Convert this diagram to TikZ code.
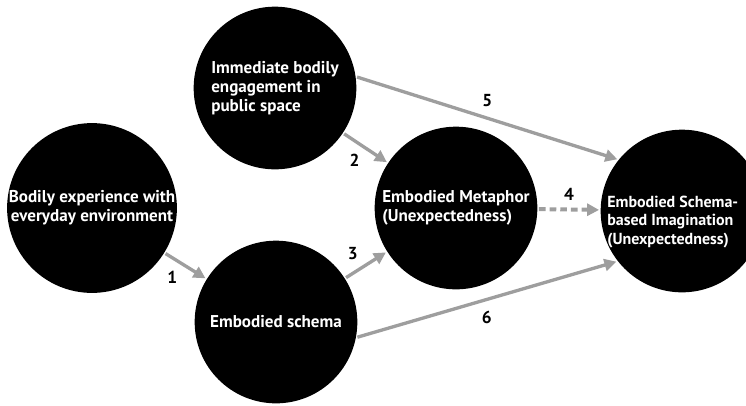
\documentclass[tikz,border=0pt]{standalone}
\usepackage{fontspec}
\setmainfont{PT Sans}
\usetikzlibrary{arrows.meta, calc}
\definecolor{linkgray}{RGB}{158,158,158}

\begin{document}
\begin{tikzpicture}[
    x=0.75pt, y=-0.75pt,
    stagefont/.style={font=\bfseries\fontsize{12.8}{14}\selectfont},
    stage/.style={circle, fill=black, text=white, minimum size=122pt, inner sep=0pt, stagefont},
    link/.style={-{Triangle[length=9pt, width=9pt]}, line width=2.5pt, linkgray,
        shorten <=1pt, shorten >=1pt},
    num/.style={font=\bfseries\fontsize{13}{14}\selectfont, text=black}
]
\useasboundingbox (0,0) rectangle (746,405);
\clip (0,0) rectangle (746,405);

% Stufen
\node[stage, align=center] (bodily) at (92,208) {Bodily experience with\\everyday environment};
\node[stage, align=left] (engage) at (275,88) {Immediate bodily\\engagement in\\public space};
\node[stage, align=left] (schema) at (276,322) {Embodied schema};
\node[stage, align=left] (metaphor) at (456,208) {Embodied Metaphor\\(Unexpectedness)};
\node[stage] (imagin) at (682,211) {};
\node[font=\bfseries\fontsize{12}{14}\selectfont, text=white, align=left, anchor=west,
    inner sep=0pt] (imagintext) at (607,222)
    {Embodied Schema-\\based Imagination\\(Unexpectedness)};

% Verbindungen
\draw[link] (bodily) -- (schema) node[num, pos=0.45, below left] {1};
\draw[link] (engage) -- (metaphor) node[num, pos=0.5, below left] {2};
\draw[link] (schema) -- (metaphor) node[num, pos=0.45, above left] {3};
\draw[link, dash pattern=on 5pt off 3pt, line width=3pt] (metaphor) -- (imagin) node[num, midway, above=2pt] {4};
\draw[link] (engage.8) -- (imagin.141) node[num, midway, above=4pt] {5};
\draw[link] (schema.-11) -- (imagin.218) node[num, midway, below=4pt] {6};

\end{tikzpicture}
\end{document}
